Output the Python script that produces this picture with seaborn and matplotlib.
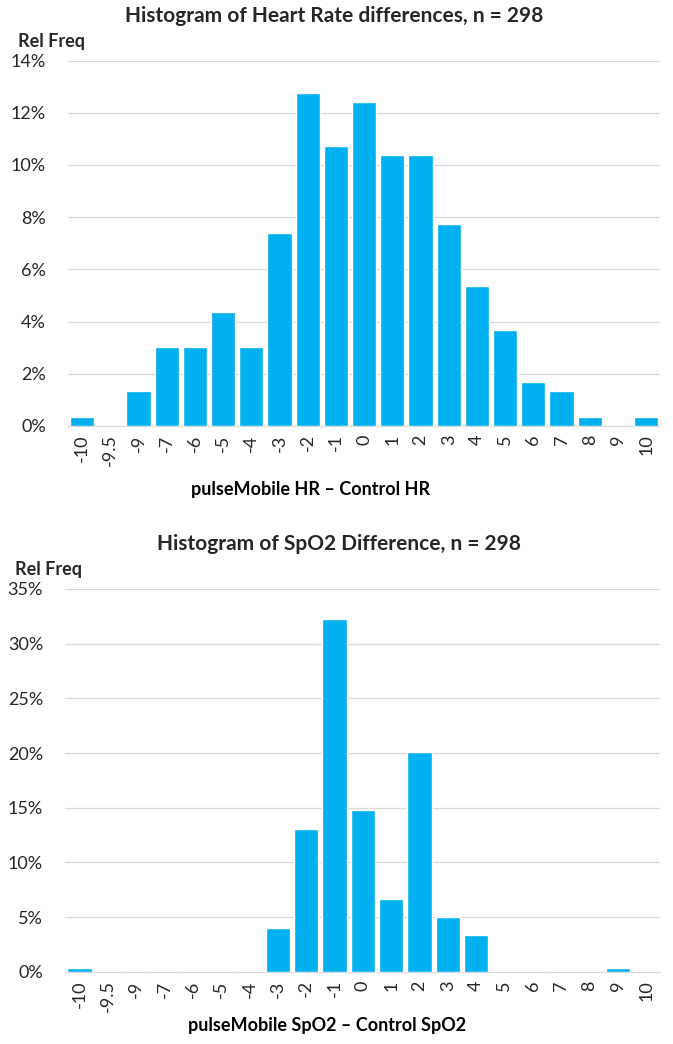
import matplotlib
matplotlib.use("Agg")
import matplotlib.pyplot as plt
from matplotlib.ticker import FuncFormatter, MultipleLocator
import pandas as pd
import seaborn as sns

# ── Data (relative frequency, %) ─────────────────────────────────────────────
bins = ["-10", "-9.5", "-9", "-7", "-6", "-5", "-4", "-3", "-2", "-1", "0",
        "1", "2", "3", "4", "5", "6", "7", "8", "9", "10"]

hr_freq = [0.34, 0.0, 1.34, 3.02, 3.02, 4.36, 3.02, 7.38, 12.75, 10.74, 12.42,
           10.40, 10.40, 7.72, 5.37, 3.69, 1.68, 1.34, 0.34, 0.0, 0.34]

spo2_freq = [0.34, 0.0, 0.0, 0.0, 0.0, 0.0, 0.0, 4.03, 13.09, 32.21, 14.77,
             6.71, 20.13, 5.03, 3.36, 0.0, 0.0, 0.0, 0.0, 0.34, 0.0]

BAR_COLOR = "#00B0F0"
GRID_COLOR = "#D9D9D9"
TEXT_COLOR = "#262626"

sns.set_style("white")
plt.rcParams["font.family"] = ["Lato", "DejaVu Sans"]


def draw_hist(ax, values, ymax, ystep, title, title_x, xlabel, xlabel_xy):
    df = pd.DataFrame({"bin": bins, "freq": values})
    sns.barplot(data=df, x="bin", y="freq", order=bins, color=BAR_COLOR,
                saturation=1, width=0.86, ax=ax, zorder=3)
    ax.set_ylim(0, ymax)
    ax.set_xlim(-0.5, len(bins) - 0.5)
    ax.yaxis.set_major_locator(MultipleLocator(ystep))
    ax.yaxis.set_major_formatter(FuncFormatter(lambda v, _: f"{v:.0f}%"))
    ax.grid(axis="y", color=GRID_COLOR, linewidth=0.9, zorder=0)
    for side in ("top", "right", "left"):
        ax.spines[side].set_visible(False)
    ax.spines["bottom"].set_color(GRID_COLOR)
    ax.tick_params(axis="x", labelrotation=90, labelsize=13, length=0,
                   pad=6, colors=TEXT_COLOR)
    ax.tick_params(axis="y", labelsize=13, length=0, pad=16, colors=TEXT_COLOR)
    ax.set_ylabel("")
    ax.set_xlabel(xlabel, fontsize=13, fontweight="bold", color="black")
    ax.xaxis.set_label_coords(*xlabel_xy)
    ax.set_title(title, fontsize=15, fontweight="bold", x=title_x, pad=28)
    ax.text(-0.084, 1.036, "Rel Freq", transform=ax.transAxes, fontsize=13,
            fontweight="bold", ha="left", va="baseline")


fig = plt.figure(figsize=(6.73, 10.44), dpi=100)

ax1 = fig.add_axes([0.101, 0.592, 0.880, 0.350])
draw_hist(ax1, hr_freq, 14, 2,
          "Histogram of Heart Rate differences, n = 298", 0.45,
          "pulseMobile HR \u2013 Control HR", (0.41, -0.150))

ax2 = fig.add_axes([0.097, 0.069, 0.884, 0.367])
draw_hist(ax2, spo2_freq, 35, 5,
          "Histogram of SpO2 Difference, n = 298", 0.46,
          "pulseMobile SpO2 \u2013 Control SpO2", (0.44, -0.118))

fig.savefig("out.png", dpi=100)
